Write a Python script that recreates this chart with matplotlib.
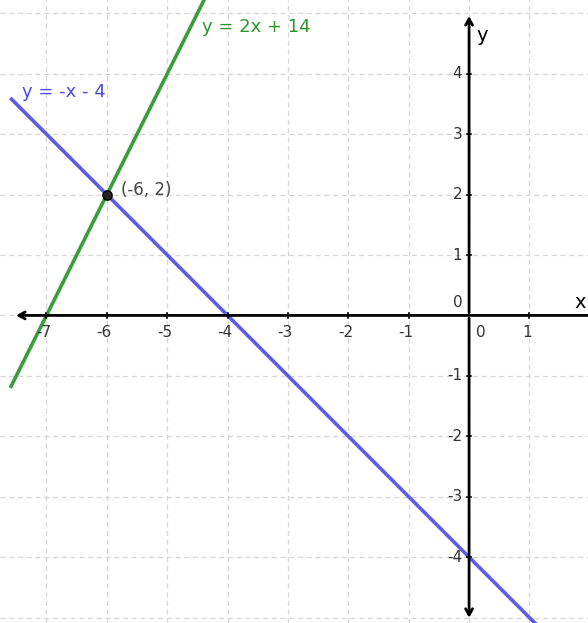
import numpy as np
import matplotlib
matplotlib.use('Agg')
import matplotlib.pyplot as plt

# Lines: y = slope * x + intercept
line_names = ['y = 2x + 14', 'y = -x - 4']
slopes = [2, -1]
intercepts = [14, -4]
line_colors = ['#3c9c3c', '#5c5ce6']

# Intersection point
point_x = [-6]
point_y = [2]
point_label = '(-6, 2)'

# Tick labels
x_ticks = [-7, -6, -5, -4, -3, -2, -1, 1]
y_ticks = [-4, -3, -2, -1, 1, 2, 3, 4]

# View window
x_min, x_max = -7.77, 1.97
y_min, y_max = -5.09, 5.22

fig = plt.figure(figsize=(5.88, 6.23), dpi=100)
ax = fig.add_axes([0, 0, 1, 1])
ax.set_xlim(x_min, x_max)
ax.set_ylim(y_min, y_max)
ax.axis('off')

# Dashed grid
for gx in range(-7, 2):
    ax.axvline(gx, color='#d6d6d6', lw=0.9, dashes=(4, 3), zorder=0)
for gy in range(-5, 6):
    ax.axhline(gy, color='#d6d6d6', lw=0.9, dashes=(4, 3), zorder=0)

# Axes with arrows
arrow = dict(arrowstyle='->,head_length=0.45,head_width=0.25', color='black', lw=2)
ax.annotate('', xy=(-7.55, 0), xytext=(x_max + 0.1, 0), arrowprops=arrow, zorder=3)
ax.annotate('', xy=(0, 5.0), xytext=(0, 0), arrowprops=arrow, zorder=3)
ax.annotate('', xy=(0, -5.05), xytext=(0, 0), arrowprops=arrow, zorder=3)

# Small tick marks
for t in x_ticks:
    ax.plot([t, t], [-0.04, 0.04], color='black', lw=1.2, zorder=3)
for t in y_ticks:
    ax.plot([-0.04, 0.04], [t, t], color='black', lw=1.2, zorder=3)

# Tick labels
for t in x_ticks:
    ax.annotate(str(t), (t, 0), xytext=(-2, -7), textcoords='offset points',
                ha='center', va='top', fontsize=11, color='#333333')
for t in y_ticks:
    ax.annotate(str(t), (0, t), xytext=(-5, 0), textcoords='offset points',
                ha='right', va='center', fontsize=11, color='#333333')
ax.annotate('0', (0, 0), xytext=(-5, 4), textcoords='offset points',
            ha='right', va='bottom', fontsize=11, color='#333333')
ax.annotate('0', (0, 0), xytext=(5, -7), textcoords='offset points',
            ha='left', va='top', fontsize=11, color='#333333')
ax.text(0.13, 4.64, 'y', fontsize=14, ha='left', va='center', color='black')
ax.text(1.74, 0.22, 'x', fontsize=14, ha='left', va='center', color='black')

# The two lines
xs = np.array([-7.6, x_max + 0.5])
for name, m, b, c in zip(line_names, slopes, intercepts, line_colors):
    ax.plot(xs, m * xs + b, color=c, lw=2.6, zorder=2, solid_capstyle='butt')

ax.text(-4.42, 4.78, line_names[0], color='#2f962f', fontsize=13, ha='left', va='center')
ax.text(-7.40, 3.70, line_names[1], color='#4a4ae0', fontsize=13, ha='left', va='center')

# Intersection point
ax.scatter(point_x, point_y, s=45, color='#222222', edgecolor='black', zorder=4)
ax.annotate(point_label, (point_x[0], point_y[0]), xytext=(10, 3), textcoords='offset points',
            ha='left', va='center', fontsize=12, color='#444444')

fig.savefig('out.png', dpi=100)
